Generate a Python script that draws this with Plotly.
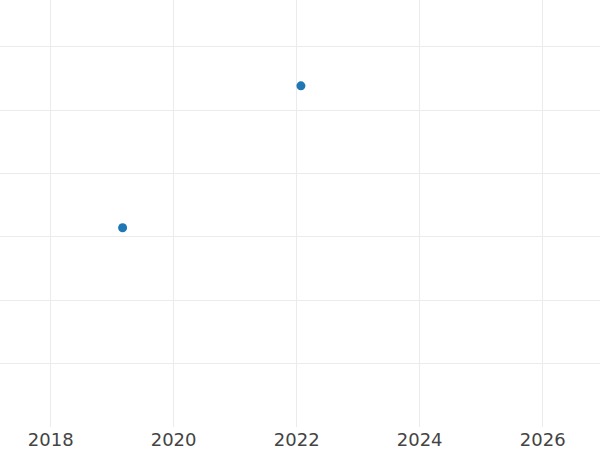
import plotly.graph_objects as go

dates = ["2019-03-04", "2022-01-26"]
values = [3.145, 5.385]

x_range = ["2017-03-06", "2026-12-07"]
y_range = [0, 6.74]

fig = go.Figure()
fig.add_trace(go.Scatter(
    x=dates, y=values, mode="markers",
    marker=dict(color="#1f77b4", size=9),
    showlegend=False,
))
fig.update_layout(
    width=600, height=450,
    margin=dict(l=0, r=0, t=0, b=23, pad=0),
    paper_bgcolor="white", plot_bgcolor="white",
    font=dict(family="DejaVu Sans", size=18, color="#444"),
)
fig.update_xaxes(
    type="date", range=x_range, dtick="M24", tick0="2018-01-01",
    tickformat="%Y", showgrid=True, gridcolor="#ebebeb", zeroline=False,
    automargin=False, showline=False,
)
fig.update_yaxes(
    range=y_range, dtick=1, showticklabels=False, showgrid=True,
    gridcolor="#ebebeb", zeroline=False, automargin=False,
)
fig.write_html(
    "out.html",
    config={"displayModeBar": False},
    post_script="document.body.style.margin='0';document.body.style.overflow='hidden';",
)
